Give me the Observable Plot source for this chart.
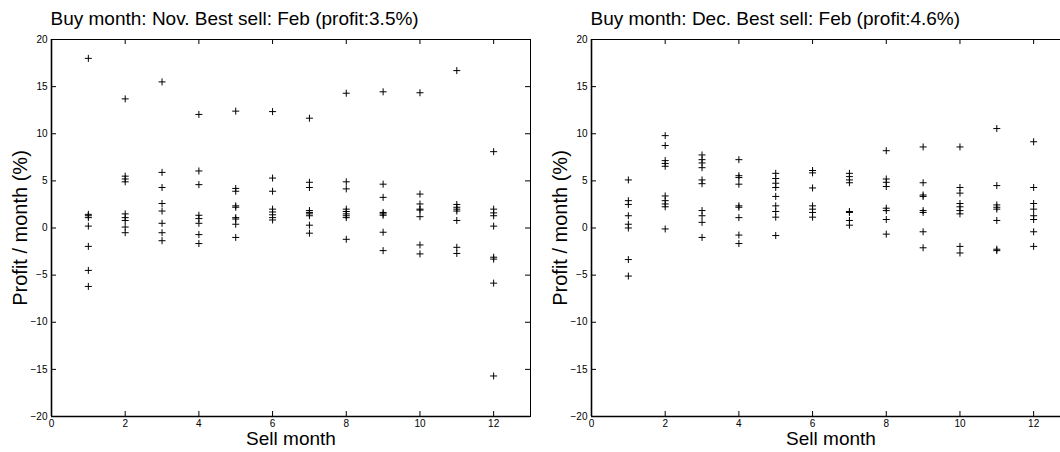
<!DOCTYPE html>
<html><head><meta charset="utf-8">
<script src="https://cdn.jsdelivr.net/npm/d3@7"></script>
<script src="https://cdn.jsdelivr.net/npm/@observablehq/plot@0.6"></script>
<style>
html,body{margin:0;padding:0;background:#fff;overflow:hidden;width:1060px;height:452px;}
#wrap{position:relative;width:1060px;height:452px;overflow:hidden;}
.panel{position:absolute;top:0;}
</style></head><body><div id="wrap"></div>
<script>
const sellMonths = [1, 2, 3, 4, 5, 6, 7, 8, 9, 10, 11, 12];
const xTicks = [0, 2, 4, 6, 8, 10, 12];
const yTicks = [-20, -15, -10, -5, 0, 5, 10, 15, 20];
const titles = ["Buy month: Nov. Best sell: Feb (profit:3.5%)", "Buy month: Dec. Best sell: Feb (profit:4.6%)"];
const xLabel = "Sell month";
const yLabel = "Profit / month (%)";

// Profit per month (%) for each sell month, bought in November
const novProfit = [
  [18.0, 1.45, 1.3, 1.1, 0.2, -1.95, -4.5, -6.2],
  [13.7, 5.5, 5.2, 4.9, 1.5, 1.1, 0.8, 0.1, -0.5],
  [15.5, 5.9, 4.3, 2.6, 1.8, 0.5, -0.5, -1.35],
  [12.05, 6.05, 4.6, 1.35, 1.0, 0.5, -0.7, -1.65],
  [12.4, 4.2, 3.9, 2.35, 2.2, 1.1, 0.95, 0.4, -1.0],
  [12.35, 5.3, 3.9, 2.0, 1.7, 1.4, 1.1, 0.85],
  [11.65, 4.85, 4.3, 1.85, 1.65, 1.5, 1.3, 0.3, -0.55],
  [14.3, 4.9, 4.15, 2.0, 1.75, 1.5, 1.3, 1.1, -1.2],
  [14.45, 4.65, 3.25, 1.65, 1.5, 1.35, -0.45, -2.4],
  [14.35, 3.6, 2.55, 2.0, 1.9, 1.2, -1.8, -2.75],
  [16.7, 2.5, 2.2, 2.0, 1.8, 0.8, -2.05, -2.7],
  [8.1, 2.0, 1.6, 1.3, 0.2, -3.1, -3.3, -5.85, -15.7]
];
// Profit per month (%) for each sell month, bought in December
const decProfit = [
  [5.1, 2.9, 2.5, 1.3, 0.4, 0.0, -3.35, -5.1],
  [9.8, 8.75, 7.15, 6.85, 6.55, 3.4, 2.9, 2.55, 2.25, -0.1],
  [7.75, 7.25, 6.9, 6.4, 5.1, 4.7, 1.85, 1.3, 0.6, -1.0],
  [7.25, 5.55, 5.35, 4.65, 2.35, 2.2, 1.1, -0.75, -1.65],
  [5.8, 5.25, 4.75, 4.3, 3.35, 2.35, 1.75, 1.15, -0.8],
  [6.1, 5.85, 4.25, 2.35, 2.0, 1.65, 1.15],
  [5.8, 5.45, 5.1, 4.8, 1.75, 1.65, 0.8, 0.3],
  [8.2, 5.2, 4.85, 4.4, 2.1, 1.85, 0.9, -0.65],
  [8.6, 4.8, 3.5, 3.35, 1.85, 1.65, -0.4, -2.1],
  [8.6, 4.3, 3.7, 2.6, 2.25, 1.85, 1.5, -1.95, -2.65],
  [10.55, 4.5, 2.45, 2.2, 2.0, 0.8, -2.25, -2.4],
  [9.15, 4.3, 2.6, 2.0, 1.3, 0.9, -0.4, -1.95]
];

const cross = {
  draw(ctx, size) {
    const r = Math.sqrt(size / Math.PI);
    ctx.moveTo(-r, 0); ctx.lineTo(r, 0);
    ctx.moveTo(0, -r); ctx.lineTo(0, r);
  }
};

function panel(profits, title) {
  const rows = profits.flatMap((vals, i) => vals.map(v => ({month: sellMonths[i], profit: v})));
  return Plot.plot({
    width: 540, height: 452,
    marginLeft: 51, marginRight: 10, marginTop: 39, marginBottom: 36,
    style: {fontFamily: "'Liberation Sans', Arial, sans-serif", fontSize: "10px", color: "#000", background: "#fff", overflow: "visible"},
    x: {domain: [0, 13]},
    y: {domain: [-20, 20]},
    marks: [
      Plot.ruleY(yTicks, {insetRight: 474, stroke: "#000"}),
      Plot.ruleY(yTicks, {insetLeft: 474, stroke: "#000"}),
      Plot.ruleX(xTicks, {insetTop: 372, stroke: "#000"}),
      Plot.ruleX(xTicks, {insetBottom: 372, stroke: "#000"}),
      Plot.frame({stroke: "#000", strokeWidth: 1}),
      Plot.ruleX([0], {stroke: "#000", strokeWidth: 1.6}),
      Plot.ruleY([-20], {stroke: "#000", strokeWidth: 1.6}),
      Plot.axisX({ticks: xTicks, tickSize: 0, tickPadding: 3, label: null, fontSize: 10}),
      Plot.axisY({ticks: yTicks, tickSize: 0, tickPadding: 4, label: null, fontSize: 10}),
      Plot.dot(rows, {x: "month", y: "profit", symbol: cross, r: 3.5, stroke: "#000", strokeWidth: 1, fill: "none"}),
      Plot.text([title], {text: d => d, frameAnchor: "top-left", textAnchor: "start", dx: -1, dy: -28, fontSize: 19}),
      Plot.text([xLabel], {text: d => d, frameAnchor: "bottom", textAnchor: "middle", dy: 28, fontSize: 19}),
      Plot.text([yLabel], {text: d => d, frameAnchor: "left", textAnchor: "middle", dx: -31, rotate: -90, fontSize: 20})
    ]
  });
}

const wrap = document.getElementById("wrap");
const p1 = panel(novProfit, titles[0]);
p1.classList.add("panel"); p1.style.left = "0px";
const p2 = panel(decProfit, titles[1]);
p2.classList.add("panel"); p2.style.left = "540px";
wrap.appendChild(p1);
wrap.appendChild(p2);
</script>
</body></html>
